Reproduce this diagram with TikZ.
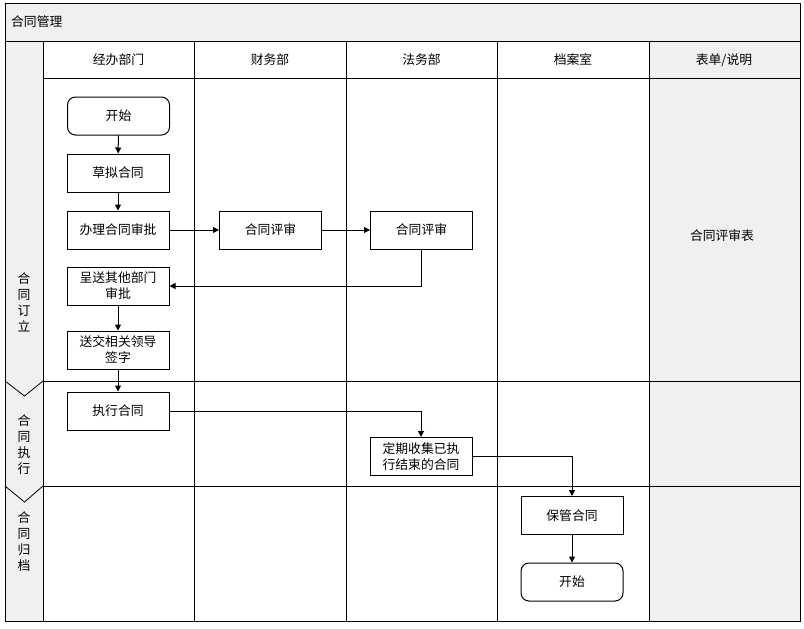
\documentclass[tikz,border=0pt]{standalone}
\usepackage{fontspec}
\newfontfamily\cjk{Noto Sans CJK SC}
\usetikzlibrary{arrows.meta}
\definecolor{lanegray}{RGB}{240,240,240}
\begin{document}
\begin{tikzpicture}[x=1pt,y=-1pt,
  every node/.style={font=\cjk\fontsize{12.8}{16}\selectfont},
  box/.style={draw, line width=1pt, minimum width=102pt, minimum height=38pt, inner sep=0pt, align=center},
  term/.style={box, rounded corners=8pt},
  arr/.style={line width=1pt, -{Triangle[length=6pt,width=6pt]}},
  frame/.style={line width=1pt},
  vlabel/.style={align=center, inner sep=0pt}]
\useasboundingbox (0,0) rectangle (804,629);
% backgrounds
\fill[lanegray] (5,3) rectangle (800,41);
\fill[lanegray] (5,41) rectangle (43,621);
\fill[lanegray] (649,41) rectangle (800,621);
% frame and grid
\draw[frame] (5,3) rectangle (800,621);
\draw[frame] (5,41) -- (800,41);
\draw[frame] (43,41) -- (43,621);
\draw[frame] (43,78) -- (800,78);
\foreach \x in {194,346,497,649} \draw[frame] (\x,41) -- (\x,621);
\draw[frame] (43,381) -- (800,381);
\draw[frame] (43,486) -- (800,486);
% chevrons
\draw[line width=0.8pt] (5,381) -- (24.5,396) -- (43,381);
\draw[line width=0.8pt] (5,486) -- (24.5,502) -- (43,486);
% title and headers
\node[anchor=west, inner sep=0pt] (title) at (11,22) {合同管理};
\node (h1) at (118.5,60) {经办部门};
\node (h2) at (270,60) {财务部};
\node (h3) at (421.5,60) {法务部};
\node (h4) at (573,60) {档案室};
\node (h5) at (724,60) {表单/说明};
% phase labels
\node[vlabel] (p1) at (24,302) {合\\同\\订\\立};
\node[vlabel] (p2) at (24,445) {合\\同\\执\\行};
\node[vlabel] (p3) at (24,542) {合\\同\\归\\档};
% form note
\node (f1) at (722,236) {合同评审表};
% flow nodes
\node[term] (n1) at (118.5,116) {开始};
\node[box] (n2) at (118,173) {草拟合同};
\node[box] (n3) at (118,230) {办理合同审批};
\node[box] (n4) at (270.5,230) {合同评审};
\node[box] (n5) at (421.5,230) {合同评审};
\node[box] (n6) at (118,286) {呈送其他部门\\审批};
\node[box] (n7) at (118,350) {送交相关领导\\签字};
\node[box] (n8) at (118,411) {执行合同};
\node[box] (n9) at (421,456.5) {定期收集已执\\行结束的合同};
\node[box] (n10) at (572,515.5) {保管合同};
\node[term] (n11) at (572,582) {开始};
% connectors
\draw[arr] (n1) -- (n2);
\draw[arr] (n2) -- (n3);
\draw[arr] (n3) -- (n4);
\draw[arr] (n4) -- (n5);
\draw[arr] (n5.south) |- (n6.east);
\draw[arr] (n6) -- (n7);
\draw[arr] (n7) -- (n8);
\draw[arr] (n8.east) -| (n9.north);
\draw[arr] (n9.east) -| (n10.north);
\draw[arr] (n10) -- (n11);
\end{tikzpicture}
\end{document}
